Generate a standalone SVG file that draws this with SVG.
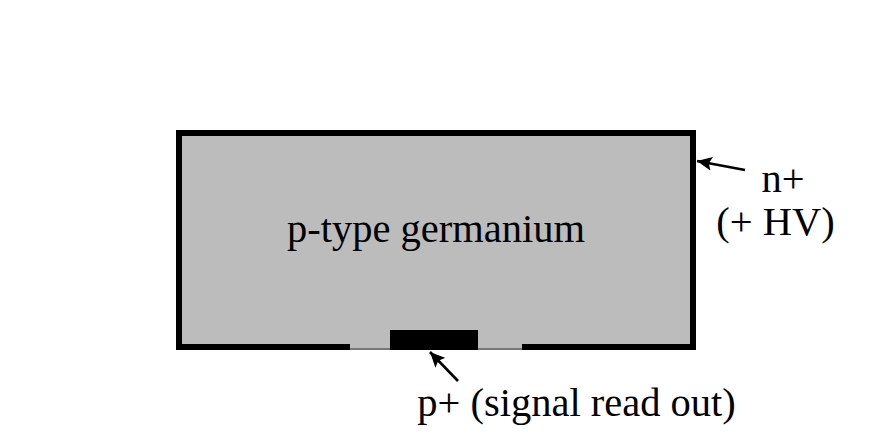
<svg xmlns="http://www.w3.org/2000/svg" width="882" height="442" viewBox="0 0 882 442">
<defs>
<style>
.t{font-family:"Liberation Serif","Times New Roman",serif;font-size:40.5px;fill:#000}
.c{stroke:#000;stroke-width:2.6;fill:none}
</style>
<marker id="a" markerUnits="userSpaceOnUse" markerWidth="16" markerHeight="14" refX="15" refY="7" orient="auto"><path d="M0 0L15 7L0 14L3 7Z" fill="#000"/></marker>
</defs>
<rect width="882" height="442" fill="#fff"/>
<g id="detector">
<rect x="176" y="130" width="520" height="220" fill="#000"/>
<rect x="182" y="136" width="508" height="208" fill="#bcbcbc"/>
<rect x="350" y="344" width="172" height="4" fill="#bcbcbc"/>
<rect x="350" y="348" width="172" height="2" fill="#777"/>
<text class="t" x="436" y="242" text-anchor="middle">p-type germanium</text>
</g>
<g id="contact">
<rect x="390" y="330" width="88" height="20" fill="#000"/>
</g>
<g id="connectors">
<path class="c" d="M745 170L697 161" marker-end="url(#a)"/>
<path class="c" d="M458 381L430 352" marker-end="url(#a)"/>
</g>
<g id="label-n">
<text class="t" x="783" y="192" text-anchor="middle">n+</text>
<text class="t" x="775.500" y="235" text-anchor="middle">(+ HV)</text>
</g>
<g id="label-p">
<text class="t" x="576.500" y="416" text-anchor="middle">p+ (signal read out)</text>
</g>
</svg>
